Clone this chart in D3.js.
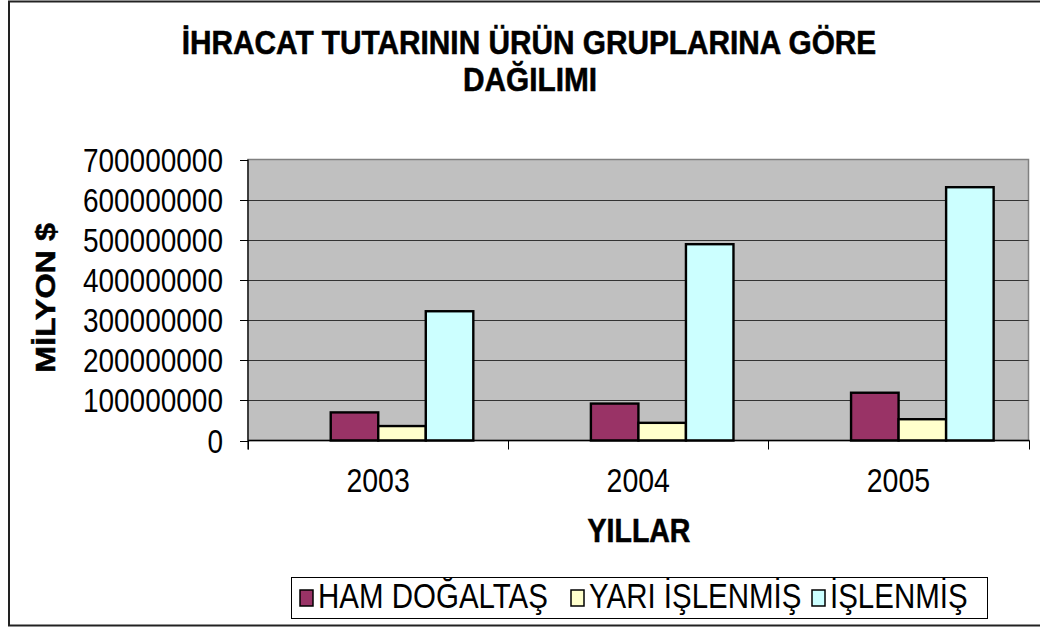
<!DOCTYPE html>
<html>
<head>
<meta charset="utf-8">
<script src="https://cdn.jsdelivr.net/npm/d3@7"></script>
<style>
  html, body { margin: 0; padding: 0; background: #fff; }
  svg { display: block; }
  text { font-family: "Liberation Sans", Arial, Helvetica, sans-serif; fill: #000; }
</style>
</head>
<body>
<svg id="chart" width="1040" height="627"></svg>
<script>
// ---- data ----
const years = ["2003", "2004", "2005"];
const seriesNames = ["HAM DOĞALTAŞ", "YARI İŞLENMİŞ", "İŞLENMİŞ"];
const hamDogaltas = [70000000, 92000000, 119000000];
const yariIslenmis = [36000000, 44000000, 53000000];
const islenmis = [322000000, 489000000, 631000000];
const yTicks = [0, 100000000, 200000000, 300000000, 400000000, 500000000, 600000000, 700000000];
const titleLines = ["İHRACAT TUTARININ ÜRÜN GRUPLARINA GÖRE", "DAĞILIMI"];
const yTitle = "MİLYON $";
const xTitle = "YILLAR";
const colors = ["#993366", "#ffffcc", "#ccffff"];

const seriesValues = [hamDogaltas, yariIslenmis, islenmis];
const table = years.map((yr, i) => ({ year: yr, values: seriesNames.map((s, j) => ({ name: s, value: seriesValues[j][i], idx: j })) }));

// ---- layout ----
const SY = 1.18; // vertical stretch of the original rendering
const plot = { left: 248, right: 1028.5, top: 159.5, bottom: 440.5 };
const svg = d3.select("#chart");

function stretchedText(parent, x, y, str, o) {
  const s = o.sy || SY;
  const g = parent.append("g").attr("transform", `translate(${x},${y}) ${o.rotate ? "rotate(-90) scale(" + s + ",1)" : "scale(1," + s + ")"}`);
  return g.append("text")
    .attr("x", 0).attr("y", 0)
    .attr("dy", o.dy || 0)
    .attr("text-anchor", o.anchor || "start")
    .attr("font-size", o.size)
    .attr("font-weight", o.bold ? "bold" : "normal")
    .attr("stroke", o.bold ? "#000" : "none")
    .attr("stroke-width", o.bold ? 0.5 : 0)
    .text(str);
}

// outer border
svg.append("rect").attr("x", 9).attr("y", 1.5).attr("width", 1060).attr("height", 624)
  .attr("fill", "#fff").attr("stroke", "#222").attr("stroke-width", 2);

// scales
const y = d3.scaleLinear().domain([0, 700000000]).range([plot.bottom, plot.top]);
const x0 = d3.scaleBand().domain(years).range([plot.left, plot.right]).padding(0);
const bw = x0.bandwidth();
const groupStart = bw * 0.318, groupWidth = bw * 0.548;
const x1 = d3.scaleBand().domain(d3.range(seriesNames.length)).range([groupStart, groupStart + groupWidth]).padding(0);

// plot background
svg.append("rect").attr("x", plot.left).attr("y", plot.top)
  .attr("width", plot.right - plot.left).attr("height", plot.bottom - plot.top)
  .attr("fill", "#c0c0c0").attr("stroke", "#808080").attr("stroke-width", 1.5);

// gridlines
svg.append("g").selectAll("line").data(yTicks.filter(d => d > 0 && d < 700000000)).join("line")
  .attr("x1", plot.left).attr("x2", plot.right)
  .attr("y1", d => Math.round(y(d)) + 0.5).attr("y2", d => Math.round(y(d)) + 0.5)
  .attr("stroke", "#333").attr("stroke-width", 1.2);

// bars
const groups = svg.append("g").selectAll("g").data(table).join("g")
  .attr("transform", d => `translate(${x0(d.year)},0)`);
groups.selectAll("rect").data(d => d.values).join("rect")
  .attr("x", d => x1(d.idx))
  .attr("y", d => y(d.value))
  .attr("width", x1.bandwidth())
  .attr("height", d => y(0) - y(d.value))
  .attr("fill", d => colors[d.idx])
  .attr("stroke", "#000").attr("stroke-width", 2.4);

// axes lines
svg.append("line").attr("x1", plot.left).attr("x2", plot.left).attr("y1", plot.top).attr("y2", plot.bottom + 9)
  .attr("stroke", "#000").attr("stroke-width", 1.2);
svg.append("line").attr("x1", plot.left).attr("x2", plot.right + 1).attr("y1", plot.bottom).attr("y2", plot.bottom)
  .attr("stroke", "#000").attr("stroke-width", 1.5);

// y ticks + labels
const yAxisG = svg.append("g");
yTicks.forEach(t => {
  const yy = Math.round(y(t)) + 0.5;
  yAxisG.append("line").attr("x1", plot.left - 8).attr("x2", plot.left).attr("y1", yy).attr("y2", yy)
    .attr("stroke", "#000").attr("stroke-width", 1);
  stretchedText(yAxisG, 223, yy, d3.format("d")(t), { anchor: "end", size: 28, dy: "0.36em" });
});

// x ticks (category boundaries) + labels
const boundaries = years.map(d => x0(d)).concat([plot.right]);
svg.append("g").selectAll("line").data(boundaries).join("line")
  .attr("x1", d => Math.round(d) + 0.5).attr("x2", d => Math.round(d) + 0.5)
  .attr("y1", plot.bottom).attr("y2", plot.bottom + 9)
  .attr("stroke", "#000").attr("stroke-width", 1);
const xLab = svg.append("g");
years.forEach(yr => stretchedText(xLab, x0(yr) + bw / 2, 492, yr, { anchor: "middle", size: 28.5 }));

// titles
stretchedText(svg, 529, 54, titleLines[0], { anchor: "middle", size: 29.8, bold: true, sy: 1.1 });
stretchedText(svg, 530, 91, titleLines[1], { anchor: "middle", size: 29.8, bold: true, sy: 1.1 });
stretchedText(svg, 639, 542, xTitle, { anchor: "middle", size: 28.5, bold: true });
stretchedText(svg, 55, 298, yTitle, { anchor: "middle", size: 27.5, bold: true, rotate: true });

// legend
const legend = svg.append("g");
legend.append("rect").attr("x", 291.5).attr("y", 577.5).attr("width", 696).attr("height", 41)
  .attr("fill", "#fff").attr("stroke", "#000").attr("stroke-width", 1);
const legendX = [300, 571, 812];
seriesNames.forEach((s, i) => {
  legend.append("rect").attr("x", legendX[i]).attr("y", 590).attr("width", 13).attr("height", 16)
    .attr("fill", colors[i]).attr("stroke", "#000").attr("stroke-width", 1.5);
  stretchedText(legend, legendX[i] + 18, 607.5, s, { anchor: "start", size: 29.5 });
});
</script>
</body>
</html>
